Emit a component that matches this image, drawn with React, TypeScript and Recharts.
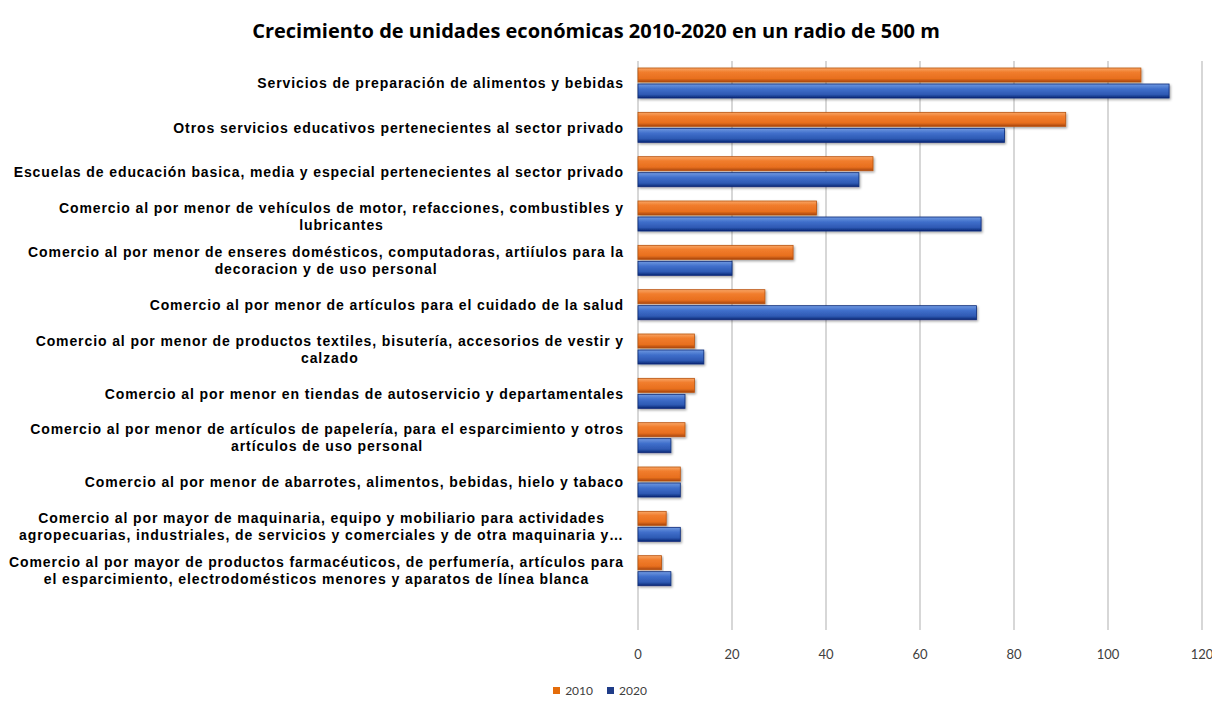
import { BarChart, Bar, XAxis, YAxis, CartesianGrid } from 'recharts';

const categories = [
  'Servicios de preparación de alimentos y bebidas',
  'Otros servicios educativos pertenecientes al sector privado',
  'Escuelas de educación basica, media y especial pertenecientes al sector privado',
  'Comercio al por menor de vehículos de motor, refacciones, combustibles y\nlubricantes',
  'Comercio al por menor de enseres domésticos, computadoras, artiíulos para la\ndecoracion y de uso personal',
  'Comercio al por menor de artículos para el cuidado de la salud',
  'Comercio al por menor de productos textiles, bisutería, accesorios de vestir y\ncalzado',
  'Comercio al por menor en tiendas de autoservicio y departamentales',
  'Comercio al por menor de artículos de papelería, para el esparcimiento y otros\nartículos de uso personal',
  'Comercio al por menor de abarrotes, alimentos, bebidas, hielo y tabaco',
  'Comercio al por mayor de maquinaria, equipo y mobiliario para actividades\nagropecuarias, industriales, de servicios y comerciales y de otra maquinaria y…',
  'Comercio al por mayor de productos farmacéuticos, de perfumería, artículos para\nel esparcimiento, electrodomésticos menores y aparatos de línea blanca',
];
const values2010 = [107, 91, 50, 38, 33, 27, 12, 12, 10, 9, 6, 5];
const values2020 = [113, 78, 47, 73, 20, 72, 14, 10, 7, 9, 9, 7];
const xTicks = [0, 20, 40, 60, 80, 100, 120];
const seriesNames = ['2010', '2020'];

const data = categories.map((name, i) => ({
  name,
  v2010: values2010[i],
  v2020: values2020[i],
}));

const LABEL_SIZE = 14;
const LABEL_SPACING = 0.9;
const LABEL_FONT = `bold ${LABEL_SIZE}px 'Liberation Sans'`;
let ctx: CanvasRenderingContext2D | null = null;
function measure(text: string) {
  if (!ctx) ctx = document.createElement('canvas').getContext('2d');
  if (!ctx) return text.length * 8.5;
  ctx.font = LABEL_FONT;
  return ctx.measureText(text).width + text.length * LABEL_SPACING;
}

// multi-line category label, lines centred on each other, block right-aligned
function CategoryTick(props: any) {
  const { x, y, payload } = props;
  const lines = String(payload.value).split('\n');
  const maxW = Math.max(...lines.map(measure));
  const cx = x - maxW / 2;
  const lh = 17;
  const y0 = y - ((lines.length - 1) * lh) / 2;
  return (
    <g>
      {lines.map((l, i) => (
        <text
          key={i}
          x={cx}
          y={y0 + i * lh}
          textAnchor="middle"
          dominantBaseline="central"
          fontFamily="'Liberation Sans', Arial, sans-serif"
          fontWeight="bold"
          fontSize={LABEL_SIZE}
          letterSpacing={LABEL_SPACING}
          fill="#000"
        >
          {l}
        </text>
      ))}
    </g>
  );
}

function ShadowBar(props: any) {
  const { x, y, width, height, fill, stroke } = props;
  if (!width || width <= 0) return <g />;
  return (
    <rect
      x={x}
      y={y}
      width={width}
      height={height}
      fill={fill}
      stroke={stroke}
      strokeWidth={0.8}
      filter="url(#barShadow)"
    />
  );
}

export default function App() {
  return (
    <div style={{ position: 'absolute', left: 0, top: 0, width: 1212, height: 708, background: '#fff' }}>
      <div
        style={{
          position: 'absolute',
          top: 17,
          left: 0,
          width: 1192,
          textAlign: 'center',
          fontFamily: "'Open Sans', sans-serif",
          fontWeight: 700,
          fontSize: 20,
          color: '#000',
        }}
      >
        Crecimiento de unidades económicas 2010-2020 en un radio de 500 m
      </div>

      <BarChart
        width={1212}
        height={708}
        data={data}
        layout="vertical"
        margin={{ top: 61, right: 10, left: 0, bottom: 38 }}
        barSize={14}
        barGap={2}
      >
        <defs>
          <linearGradient id="gOrange" x1="0" y1="0" x2="0" y2="1">
            <stop offset="0%" stopColor="#F8A665" />
            <stop offset="30%" stopColor="#F17D2D" />
            <stop offset="75%" stopColor="#E86F1E" />
            <stop offset="100%" stopColor="#A6450C" />
          </linearGradient>
          <linearGradient id="gBlue" x1="0" y1="0" x2="0" y2="1">
            <stop offset="0%" stopColor="#7099E0" />
            <stop offset="35%" stopColor="#406FCB" />
            <stop offset="75%" stopColor="#2E59B3" />
            <stop offset="100%" stopColor="#0A2774" />
          </linearGradient>
          <filter id="barShadow" x="-10%" y="-30%" width="120%" height="180%">
            <feDropShadow dx="1.2" dy="1.5" stdDeviation="1" floodColor="#000" floodOpacity="0.35" />
          </filter>
        </defs>
        <CartesianGrid horizontal={false} stroke="#BDBDBD" strokeWidth={1.2} />
        <XAxis
          type="number"
          domain={[0, 120]}
          ticks={xTicks}
          axisLine={false}
          tickLine={false}
          tickSize={0}
          tickMargin={20}
          height={40}
          tick={{ fontFamily: 'Lato, sans-serif', fontSize: 13, fill: '#404040' }}
        />
        <YAxis
          type="category"
          dataKey="name"
          width={638}
          axisLine={false}
          tickLine={false}
          tickSize={0}
          tickMargin={14}
          interval={0}
          padding={{ top: 0, bottom: 37 }}
          tick={<CategoryTick />}
        />
        <Bar
          dataKey="v2010"
          name={seriesNames[0]}
          fill="url(#gOrange)"
          stroke="#B9530F"
          shape={<ShadowBar />}
          isAnimationActive={false}
        />
        <Bar
          dataKey="v2020"
          name={seriesNames[1]}
          fill="url(#gBlue)"
          stroke="#0B2A78"
          shape={<ShadowBar />}
          isAnimationActive={false}
        />
      </BarChart>

      <div
        style={{
          position: 'absolute',
          top: 683,
          left: 0,
          width: 1200,
          display: 'flex',
          justifyContent: 'center',
          gap: 14,
          fontFamily: 'Lato, sans-serif',
          fontSize: 12,
          color: '#404040',
        }}
      >
        {seriesNames.map((s, i) => (
          <div key={s} style={{ display: 'flex', alignItems: 'center', gap: 5 }}>
            <span
              style={{
                display: 'inline-block',
                width: 7,
                height: 7,
                background: i === 0 ? '#E46C0A' : '#1F3C88',
              }}
            />
            <span>{s}</span>
          </div>
        ))}
      </div>
    </div>
  );
}
